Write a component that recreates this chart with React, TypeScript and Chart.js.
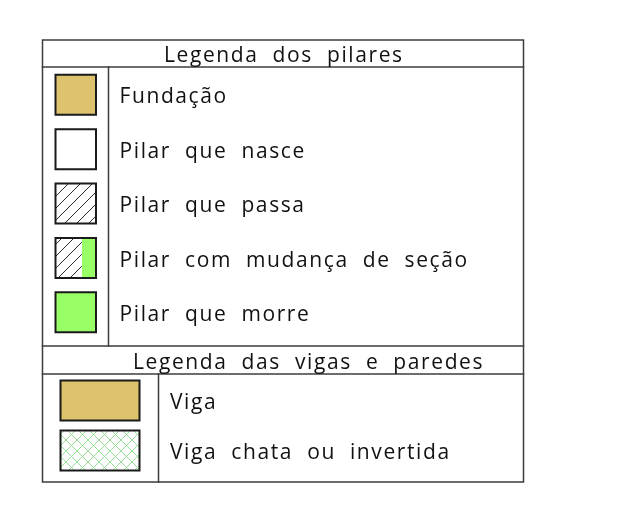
import React, { useEffect, useRef } from 'react';
import { Chart, registerables } from 'chart.js';

Chart.register(...registerables);

// ---- data ----
const headers = ['Legenda dos pilares', 'Legenda das vigas e paredes'];
const pilarLabels = ['Fundação', 'Pilar que nasce', 'Pilar que passa', 'Pilar com mudança de seção', 'Pilar que morre'];
const pilarSwatches = ['tan', 'white', 'hatch', 'hatchGreen', 'green'];
const vigaLabels = ['Viga', 'Viga chata ou invertida'];
const vigaSwatches = ['tan', 'crosshatch'];

// ---- layout / style ----
const W = 631;
const H = 509;
const T = { left: 42.5, right: 523.5, top: 40, head1: 67, pilarBottom: 346, head2: 374, bottom: 482, divPilar: 108.5, divViga: 158.5 };
const PILAR_C0 = 94.75;
const PILAR_STEP = 54.4;
const PILAR_X = [55.5, 96];
const PILAR_HALF = 20;
const VIGA_C0 = 400.5;
const VIGA_STEP = 50;
const VIGA_X = [60.5, 139.5];
const VIGA_HALF = 20;
const TAN = '#dec36e';
const GREEN = '#99ff66';
const LINE = '#3c3c3c';
const EDGE = '#1a1a1a';
const FONT = '21px "Open Sans"';
const LETTER = 1.6;
const WORD = 7;

type P = { x: number; y: number };
const rect = (x0: number, y0: number, x1: number, y1: number): P[] => [
  { x: x0, y: y0 }, { x: x1, y: y0 }, { x: x1, y: y1 }, { x: x0, y: y1 }, { x: x0, y: y0 },
];

function makePattern(kind: string): CanvasPattern | string {
  const s = kind === 'hatch' ? 12 : 11;
  const c = document.createElement('canvas');
  c.width = s; c.height = s;
  const g = c.getContext('2d');
  if (!g) return '#fff';
  g.fillStyle = '#ffffff';
  g.fillRect(0, 0, s, s);
  g.lineWidth = 1;
  const slash = () => {
    g.beginPath();
    g.moveTo(-1, s + 1); g.lineTo(s + 1, -1);
    g.moveTo(-1, 1); g.lineTo(1, -1);
    g.moveTo(s - 1, s + 1); g.lineTo(s + 1, s - 1);
    g.stroke();
  };
  const back = () => {
    g.beginPath();
    g.moveTo(-1, -1); g.lineTo(s + 1, s + 1);
    g.moveTo(-1, s - 1); g.lineTo(1, s + 1);
    g.moveTo(s - 1, -1); g.lineTo(s + 1, 1);
    g.stroke();
  };
  if (kind === 'hatch') {
    g.strokeStyle = '#2a2a2a';
    slash();
  } else {
    g.strokeStyle = '#96dc96';
    slash();
    back();
  }
  const p = g.createPattern(c, 'repeat');
  return p || '#fff';
}

function fillSet(data: P[], color: any) {
  return { type: 'line', data, fill: 'shape', backgroundColor: color, borderWidth: 0, borderColor: 'rgba(0,0,0,0)', pointRadius: 0, order: 2 };
}
function edgeSet(data: P[], color: string, width: number) {
  return { type: 'line', data, fill: false, borderColor: color, borderWidth: width, pointRadius: 0, order: 0, borderJoinStyle: 'miter', borderCapStyle: 'square' };
}

function drawSpaced(ctx: CanvasRenderingContext2D, text: string, x: number, y: number) {
  let cx = x;
  for (const ch of text) {
    if (ch === ' ') {
      cx += ctx.measureText(' ').width + LETTER + WORD;
      continue;
    }
    ctx.fillText(ch, cx, y);
    cx += ctx.measureText(ch).width + LETTER;
  }
}

export default function App() {
  const ref = useRef<HTMLCanvasElement | null>(null);
  useEffect(() => {
    if (!ref.current) return;
    const hatch = makePattern('hatch');
    const cross = makePattern('crosshatch');
    const datasets: any[] = [];

    // table frame
    datasets.push(edgeSet(rect(T.left, T.top, T.right, T.bottom), LINE, 1.5));
    [T.head1, T.pilarBottom, T.head2].forEach((y) => datasets.push(edgeSet([{ x: T.left, y }, { x: T.right, y }], LINE, 1.5)));
    datasets.push(edgeSet([{ x: T.divPilar, y: T.head1 }, { x: T.divPilar, y: T.pilarBottom }], LINE, 1.5));
    datasets.push(edgeSet([{ x: T.divViga, y: T.head2 }, { x: T.divViga, y: T.bottom }], LINE, 1.5));

    // pilar swatches
    pilarSwatches.forEach((kind, i) => {
      const c = PILAR_C0 + i * PILAR_STEP;
      const [x0, x1] = PILAR_X;
      const y0 = c - PILAR_HALF, y1 = c + PILAR_HALF;
      if (kind === 'tan') datasets.push(fillSet(rect(x0, y0, x1, y1), TAN));
      else if (kind === 'white') datasets.push(fillSet(rect(x0, y0, x1, y1), '#ffffff'));
      else if (kind === 'hatch') datasets.push(fillSet(rect(x0, y0, x1, y1), hatch));
      else if (kind === 'green') datasets.push(fillSet(rect(x0, y0, x1, y1), GREEN));
      else if (kind === 'hatchGreen') {
        const xm = x0 + (x1 - x0) * 0.65;
        datasets.push(fillSet(rect(x0, y0, xm, y1), hatch));
        datasets.push(fillSet(rect(xm, y0, x1, y1), GREEN));
      }
      datasets.push(edgeSet(rect(x0, y0, x1, y1), EDGE, 2));
    });

    // viga swatches
    vigaSwatches.forEach((kind, i) => {
      const c = VIGA_C0 + i * VIGA_STEP;
      const [x0, x1] = VIGA_X;
      const y0 = c - VIGA_HALF, y1 = c + VIGA_HALF;
      datasets.push(fillSet(rect(x0, y0, x1, y1), kind === 'tan' ? TAN : cross));
      datasets.push(edgeSet(rect(x0, y0, x1, y1), EDGE, 2));
    });

    const textPlugin = {
      id: 'legendText',
      afterDraw(chart: any) {
        const { ctx, scales } = chart;
        const xs = scales.x, ys = scales.y;
        ctx.save();
        ctx.font = FONT;
        ctx.fillStyle = '#111111';
        ctx.textBaseline = 'alphabetic';
        ctx.textAlign = 'left';
        drawSpaced(ctx, headers[0], xs.getPixelForValue(164), ys.getPixelForValue((T.top + T.head1) / 2 + 8.5));
        drawSpaced(ctx, headers[1], xs.getPixelForValue(133), ys.getPixelForValue((T.pilarBottom + T.head2) / 2 + 8.5));
        pilarLabels.forEach((lab, i) => {
          drawSpaced(ctx, lab, xs.getPixelForValue(119.5), ys.getPixelForValue(PILAR_C0 + i * PILAR_STEP + 8.7));
        });
        vigaLabels.forEach((lab, i) => {
          drawSpaced(ctx, lab, xs.getPixelForValue(170), ys.getPixelForValue(VIGA_C0 + i * VIGA_STEP + 8.5));
        });
        ctx.restore();
      },
    };

    const chart = new Chart(ref.current, {
      type: 'line',
      data: { datasets },
      options: {
        animation: false,
        responsive: false,
        events: [],
        layout: { padding: 0 },
        plugins: { legend: { display: false }, tooltip: { enabled: false } },
        scales: {
          x: { type: 'linear', min: 0, max: W, display: false },
          y: { type: 'linear', min: 0, max: H, reverse: true, display: false },
        },
      },
      plugins: [textPlugin],
    } as any);
    return () => chart.destroy();
  }, []);

  return (
    <div style={{ position: 'absolute', left: 0, top: 0, width: W, height: H, background: '#ffffff' }}>
      <canvas ref={ref} width={W} height={H} style={{ display: 'block', width: W, height: H }} />
    </div>
  );
}
